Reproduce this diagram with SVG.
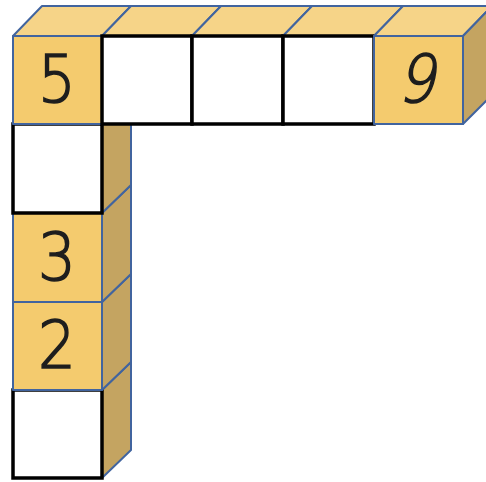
<svg xmlns="http://www.w3.org/2000/svg" width="486" height="482" viewBox="0 0 486 482">
<style>
.front{fill:#F4CB6E;stroke:#41649F;stroke-width:2;stroke-linejoin:round}
.top{fill:#F6D488;stroke:#41649F;stroke-width:2;stroke-linejoin:round}
.side{fill:#C4A461;stroke:#41649F;stroke-width:2;stroke-linejoin:round}
.blank{fill:#FFFFFF;stroke:#000000;stroke-width:3.5}
.num{font-family:"DejaVu Sans",sans-serif;font-weight:200;font-size:66px;fill:#1E1E1E;stroke:#1E1E1E;stroke-width:1.6;text-anchor:middle}
</style>
<rect width="486" height="482" fill="#FFFFFF"/>
<g id="col-5">
<polygon class="side" points="102,390 131,362 131,450 102,478"/>
<rect class="blank" x="13" y="390" width="89" height="88"/>
</g>
<g id="col-4">
<polygon class="side" points="102,302 131,274 131,362 102,390"/>
<rect class="front" x="13" y="302" width="89" height="88"/>
<text class="num" x="57" y="368" transform="translate(57 0) scale(0.9 1) translate(-57 0)">2</text>
</g>
<g id="col-3">
<polygon class="side" points="102,213 131,185 131,274 102,302"/>
<rect class="front" x="13" y="213" width="89" height="89"/>
<text class="num" x="57" y="280" transform="translate(57 0) scale(0.9 1) translate(-57 0)">3</text>
</g>
<g id="col-2">
<polygon class="side" points="102,124 131,96 131,185 102,213"/>
<rect class="blank" x="13" y="124" width="89" height="89"/>
</g>
<g id="row-1">
<polygon class="top" points="13,36 42,6 131,6 102,36"/>
<rect class="front" x="13" y="36" width="89" height="88"/>
<text class="num" x="57" y="102" transform="translate(57 0) scale(0.9 1) translate(-57 0)">5</text>
</g>
<g id="row-2">
<polygon class="top" points="102,36 131,6 221,6 192,36"/>
<rect class="blank" x="102" y="36" width="90" height="88"/>
</g>
<g id="row-3">
<polygon class="top" points="192,36 221,6 312,6 283,36"/>
<rect class="blank" x="192" y="36" width="91" height="88"/>
</g>
<g id="row-4">
<polygon class="top" points="283,36 312,6 403,6 374,36"/>
<rect class="blank" x="283" y="36" width="91" height="88"/>
</g>
<g id="row-5">
<polygon class="top" points="374,36 403,6 492,6 463,36"/>
<polygon class="side" points="463,36 492,6 492,95 463,124"/>
<rect class="front" x="374" y="36" width="89" height="88"/>
<text class="num" x="416" y="102" transform="translate(416 102) skewX(-12) scale(0.9 1) translate(-416 -102)">9</text>
</g>
<g id="connectors"/>
</svg>
